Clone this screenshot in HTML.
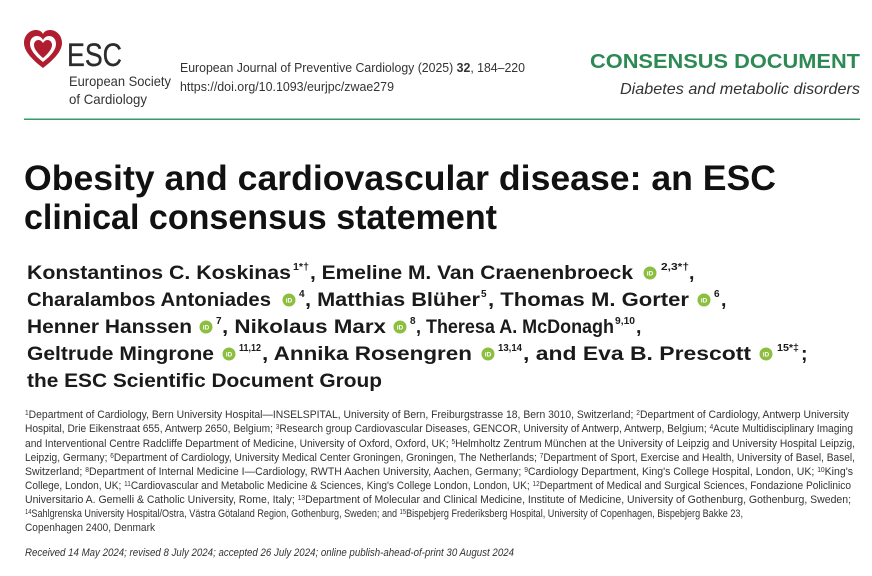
<!DOCTYPE html>
<html><head><meta charset="utf-8"><style>
html,body{margin:0;padding:0;background:#fff;width:872px;height:576px;overflow:hidden}
svg{display:block}
text{font-family:"Liberation Sans",sans-serif;fill:#222}
.a{font-weight:bold;font-size:19.5px;fill:#1a1a1a}
.s{font-weight:bold;font-size:10px;fill:#1a1a1a}
.f{font-size:11px;fill:#333}
.fs{font-size:7px;fill:#333}
</style></head><body>
<svg width="872" height="576" viewBox="0 0 872 576">
<g>
<path d="M43 68 C30 58 24 50 24 43 C24 35 30 30 36 30 C40 30 42 32 43 34 C44 32 46 30 50 30 C56 30 62 35 62 43 C62 50 56 58 43 68 Z" fill="#b01d2e"/>
<path d="M43 62 C34 55 30 49 30 44 C30 39 33 36 37 36 C40 36 42 38 43 40 C44 38 46 36 49 36 C53 36 56 39 56 44 C56 49 52 55 43 62 Z" fill="#fff"/>
<path d="M43 58 C36 52 34 48 34 45 C34 42 36 40 38.5 40 C40.5 40 42 41.5 43 43 C44 41.5 45.5 40 47.5 40 C50 40 52 42 52 45 C52 48 50 52 43 58 Z" fill="#b01d2e"/>
</g>
<text x="67" y="66" style="font-size:32px;fill:#2b2b2b;stroke:#2b2b2b;stroke-width:0.3" textLength="55" lengthAdjust="spacingAndGlyphs">ESC</text>
<text x="69" y="86" style="font-size:14px;fill:#333" textLength="102" lengthAdjust="spacingAndGlyphs">European Society</text>
<text x="69" y="104" style="font-size:14px;fill:#333" textLength="78" lengthAdjust="spacingAndGlyphs">of Cardiology</text>
<text x="180" y="72" style="font-size:13px;fill:#333" textLength="345" lengthAdjust="spacingAndGlyphs">European Journal of Preventive Cardiology (2025) <tspan font-weight="bold">32</tspan>, 184–220</text>
<text x="180" y="91" style="font-size:13px;fill:#333" textLength="214" lengthAdjust="spacingAndGlyphs">https://doi.org/10.1093/eurjpc/zwae279</text>
<text x="590" y="68" style="font-size:20px;font-weight:bold;fill:#2e8a55" textLength="270" lengthAdjust="spacingAndGlyphs">CONSENSUS DOCUMENT</text>
<text x="620" y="94" style="font-size:16px;font-style:italic;fill:#333" textLength="240" lengthAdjust="spacingAndGlyphs">Diabetes and metabolic disorders</text>
<rect x="24" y="118.5" width="836" height="1.5" fill="#3a9a66"/>
<text x="24" y="190" style="font-size:35px;font-weight:bold;fill:#111" textLength="752" lengthAdjust="spacingAndGlyphs">Obesity and cardiovascular disease: an ESC</text>
<text x="24" y="229" style="font-size:35px;font-weight:bold;fill:#111" textLength="473" lengthAdjust="spacingAndGlyphs">clinical consensus statement</text>
<defs><g id="oi"><circle r="6.5" fill="#8cbf3f"/><text x="0" y="2.5" text-anchor="middle" style="font-size:6.5px;fill:#fff;font-weight:bold">iD</text></g></defs>
<text class="a" x="27" y="279" textLength="264" lengthAdjust="spacingAndGlyphs">Konstantinos C. Koskinas</text>
<text class="s" x="293" y="270" textLength="16" lengthAdjust="spacingAndGlyphs">1*†</text>
<text class="a" x="310" y="279" textLength="323" lengthAdjust="spacingAndGlyphs">, Emeline M. Van Craenenbroeck</text>
<use href="#oi" x="650" y="273"/>
<text class="s" x="661" y="270" textLength="28" lengthAdjust="spacingAndGlyphs">2,3*†</text><text class="a" x="689" y="279">,</text>
<text class="a" x="27" y="306" textLength="244" lengthAdjust="spacingAndGlyphs">Charalambos Antoniades</text>
<use href="#oi" x="289" y="300"/><text class="s" x="299" y="297">4</text>
<text class="a" x="305" y="306" textLength="175" lengthAdjust="spacingAndGlyphs">, Matthias Blüher</text>
<text class="s" x="481" y="297">5</text>
<text class="a" x="488" y="306" textLength="201" lengthAdjust="spacingAndGlyphs">, Thomas M. Gorter</text>
<use href="#oi" x="704" y="300"/><text class="s" x="714" y="297">6</text><text class="a" x="721" y="306">,</text>
<text class="a" x="27" y="333" textLength="165" lengthAdjust="spacingAndGlyphs">Henner Hanssen</text>
<use href="#oi" x="206" y="327"/><text class="s" x="216" y="324">7</text>
<text class="a" x="222" y="333" textLength="164" lengthAdjust="spacingAndGlyphs">, Nikolaus Marx</text>
<use href="#oi" x="400" y="327"/><text class="s" x="410" y="324">8</text>
<text class="a" x="416" y="333" textLength="198" lengthAdjust="spacingAndGlyphs">, Theresa A. McDonagh</text>
<text class="s" x="615" y="324" textLength="20" lengthAdjust="spacingAndGlyphs">9,10</text><text class="a" x="636" y="333">,</text>
<text class="a" x="27" y="360" textLength="187" lengthAdjust="spacingAndGlyphs">Geltrude Mingrone</text>
<use href="#oi" x="229" y="354"/><text class="s" x="239" y="351" textLength="22" lengthAdjust="spacingAndGlyphs">11,12</text>
<text class="a" x="262" y="360" textLength="210" lengthAdjust="spacingAndGlyphs">, Annika Rosengren</text>
<use href="#oi" x="488" y="354"/><text class="s" x="498" y="351" textLength="24" lengthAdjust="spacingAndGlyphs">13,14</text>
<text class="a" x="523" y="360" textLength="228" lengthAdjust="spacingAndGlyphs">, and Eva B. Prescott</text>
<use href="#oi" x="766" y="354"/><text class="s" x="777" y="351" textLength="22" lengthAdjust="spacingAndGlyphs">15*‡</text><text class="a" x="801" y="360">;</text>
<text class="a" x="27" y="387" textLength="355" lengthAdjust="spacingAndGlyphs">the ESC Scientific Document Group</text>
<g>
<text class="f" x="25" y="418" textLength="824" lengthAdjust="spacingAndGlyphs"><tspan class="fs" baseline-shift="super">1</tspan>Department of Cardiology, Bern University Hospital—INSELSPITAL, University of Bern, Freiburgstrasse 18, Bern 3010, Switzerland; <tspan class="fs" baseline-shift="super">2</tspan>Department of Cardiology, Antwerp University</text>
<text class="f" x="25" y="432" textLength="828" lengthAdjust="spacingAndGlyphs">Hospital, Drie Eikenstraat 655, Antwerp 2650, Belgium; <tspan class="fs" baseline-shift="super">3</tspan>Research group Cardiovascular Diseases, GENCOR, University of Antwerp, Antwerp, Belgium; <tspan class="fs" baseline-shift="super">4</tspan>Acute Multidisciplinary Imaging</text>
<text class="f" x="25" y="447" textLength="830" lengthAdjust="spacingAndGlyphs">and Interventional Centre Radcliffe Department of Medicine, University of Oxford, Oxford, UK; <tspan class="fs" baseline-shift="super">5</tspan>Helmholtz Zentrum München at the University of Leipzig and University Hospital Leipzig,</text>
<text class="f" x="25" y="461" textLength="830" lengthAdjust="spacingAndGlyphs">Leipzig, Germany; <tspan class="fs" baseline-shift="super">6</tspan>Department of Cardiology, University Medical Center Groningen, Groningen, The Netherlands; <tspan class="fs" baseline-shift="super">7</tspan>Department of Sport, Exercise and Health, University of Basel, Basel,</text>
<text class="f" x="25" y="475" textLength="828" lengthAdjust="spacingAndGlyphs">Switzerland; <tspan class="fs" baseline-shift="super">8</tspan>Department of Internal Medicine I—Cardiology, RWTH Aachen University, Aachen, Germany; <tspan class="fs" baseline-shift="super">9</tspan>Cardiology Department, King's College Hospital, London, UK; <tspan class="fs" baseline-shift="super">10</tspan>King's</text>
<text class="f" x="25" y="489" textLength="826" lengthAdjust="spacingAndGlyphs">College, London, UK; <tspan class="fs" baseline-shift="super">11</tspan>Cardiovascular and Metabolic Medicine &amp; Sciences, King's College London, London, UK; <tspan class="fs" baseline-shift="super">12</tspan>Department of Medical and Surgical Sciences, Fondazione Policlinico</text>
<text class="f" x="25" y="503" textLength="826" lengthAdjust="spacingAndGlyphs">Universitario A. Gemelli &amp; Catholic University, Rome, Italy; <tspan class="fs" baseline-shift="super">13</tspan>Department of Molecular and Clinical Medicine, Institute of Medicine, University of Gothenburg, Gothenburg, Sweden;</text>
<text class="f" x="25" y="517" textLength="718" lengthAdjust="spacingAndGlyphs"><tspan class="fs" baseline-shift="super">14</tspan>Sahlgrenska University Hospital/Ostra, Västra Götaland Region, Gothenburg, Sweden; and <tspan class="fs" baseline-shift="super">15</tspan>Bispebjerg Frederiksberg Hospital, University of Copenhagen, Bispebjerg Bakke 23,</text>
<text class="f" x="25" y="531" textLength="130" lengthAdjust="spacingAndGlyphs">Copenhagen 2400, Denmark</text>
<text class="f" x="25" y="556" style="font-style:italic" textLength="489" lengthAdjust="spacingAndGlyphs">Received 14 May 2024; revised 8 July 2024; accepted 26 July 2024; online publish-ahead-of-print 30 August 2024</text>
</g>
</svg>
</body></html>
